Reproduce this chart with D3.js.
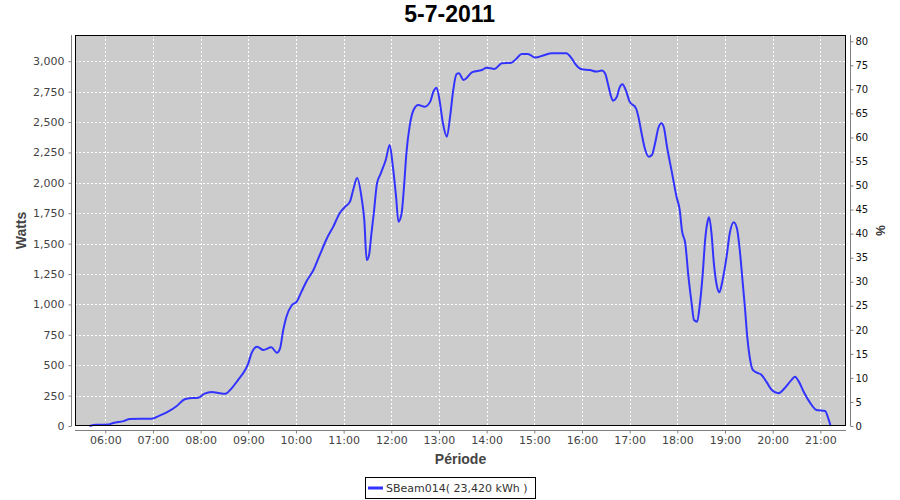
<!DOCTYPE html>
<html><head><meta charset="utf-8">
<script src="https://cdn.jsdelivr.net/npm/d3@7"></script>
<style>body{margin:0;background:#fff}svg{display:block}</style>
</head><body>
<svg id="c" width="900" height="500"></svg>
<script>
const title = "5-7-2011";
const seriesName = "SBeam014( 23,420 kWh )";
const times = ["05:40","05:49","06:04","06:10","06:23","06:31","06:58","07:09","07:19","07:30","07:40","07:49","07:57","08:05","08:14","08:22","08:31","08:39","08:47","08:56","09:00","09:04","09:11","09:19","09:29","09:36","09:40","09:44","09:48","09:55","10:01","10:07","10:13","10:22","10:30","10:39","10:47","10:55","11:02","11:08","11:12","11:17","11:23","11:26","11:29","11:32","11:35","11:38","11:42","11:46","11:50","11:53","11:58","12:02","12:06","12:09","12:13","12:16","12:19","12:23","12:28","12:34","12:42","12:49","12:53","12:57","13:01","13:05","13:10","13:14","13:18","13:22","13:25","13:31","13:42","13:54","14:00","14:10","14:19","14:31","14:38","14:44","14:52","15:01","15:13","15:22","15:40","15:47","15:51","16:00","16:10","16:18","16:25","16:29","16:33","16:36","16:39","16:44","16:47","16:51","16:55","17:00","17:08","17:11","17:15","17:19","17:24","17:28","17:32","17:36","17:40","17:43","17:47","17:53","17:59","18:03","18:06","18:10","18:14","18:18","18:21","18:25","18:28","18:32","18:35","18:38","18:40","18:43","18:46","18:50","18:53","18:57","19:02","19:06","19:11","19:15","19:19","19:22","19:25","19:28","19:31","19:35","19:40","19:46","19:52","19:59","20:07","20:15","20:23","20:28","20:33","20:39","20:47","20:55","21:06","21:10","21:13"];
const watts = [0,10,12,25,40,58,60,88,118,165,220,230,232,266,280,272,265,310,378,460,515,598,652,625,647,603,639,790,899,995,1023,1105,1187,1283,1407,1544,1640,1750,1804,1845,1941,2040,1859,1695,1365,1407,1585,1750,1996,2065,2133,2188,2311,2133,1886,1680,1750,1968,2243,2462,2599,2640,2626,2668,2750,2783,2668,2490,2380,2544,2764,2893,2901,2846,2910,2928,2947,2937,2983,2988,3024,3060,3060,3030,3052,3066,3066,3024,2983,2934,2928,2915,2923,2901,2805,2723,2676,2709,2778,2811,2764,2668,2613,2544,2408,2284,2215,2229,2325,2449,2490,2457,2297,2092,1886,1777,1600,1503,1228,1009,872,858,981,1256,1530,1680,1717,1585,1338,1146,1100,1201,1393,1585,1676,1626,1421,1201,981,735,570,461,439,420,365,296,269,310,373,406,365,282,192,132,123,63,0];
const leftTicks = [0,250,500,750,1000,1250,1500,1750,2000,2250,2500,2750,3000];
const rightTicks = [0,5,10,15,20,25,30,35,40,45,50,55,60,65,70,75,80];
const xDomainStr = ["05:21:54","21:32:18"];
const leftMax = 3216;
const rightMax = 81.3;

const toDate = s => { const p = s.split(":").map(Number); return new Date(2011,6,5,p[0],p[1],p[2]||0); };
const data = times.map((t,i)=>({t:toDate(t), w:watts[i]}));

const L=75, R=846, T=35, B=426;
const svg = d3.select("#c");
const x = d3.scaleTime().domain(xDomainStr.map(toDate)).range([L,R]);
const y = d3.scaleLinear().domain([0,leftMax]).range([B,T]);
const y2 = d3.scaleLinear().domain([0,rightMax]).range([B,T]);
const hourTicks = x.ticks(d3.timeHour.every(1));

svg.append("rect").attr("x",L).attr("y",T).attr("width",R-L).attr("height",B-T).attr("fill","#cccccc");
const g = svg.append("g");
g.selectAll("line.vx").data(hourTicks).join("line")
  .attr("x1",d=>Math.round(x(d))+0.5).attr("x2",d=>Math.round(x(d))+0.5).attr("y1",T).attr("y2",B)
  .attr("stroke","#fff").attr("stroke-dasharray","2,2").attr("stroke-width",1);
g.selectAll("line.hy").data(leftTicks.filter(d=>d>0)).join("line")
  .attr("y1",d=>Math.round(y(d))+0.5).attr("y2",d=>Math.round(y(d))+0.5).attr("x1",L).attr("x2",R)
  .attr("stroke","#fff").attr("stroke-dasharray","2,2").attr("stroke-width",1);

svg.append("path").datum(data)
  .attr("d", d3.line().x(d=>x(d.t)).y(d=>y(d.w)).curve(d3.curveMonotoneX))
  .attr("fill","none").attr("stroke","#3333ff").attr("stroke-width",2).attr("stroke-linejoin","round");

svg.append("rect").attr("x",L+0.5).attr("y",T+0.5).attr("width",R-L-1).attr("height",B-T-1)
  .attr("fill","none").attr("stroke","#000").attr("stroke-width",1);

function styleAxis(sel, color){
  sel.selectAll("path").attr("stroke","#808080");
  sel.selectAll("line").attr("stroke","#808080");
  sel.selectAll("text").attr("fill",color).style("font-family","'DejaVu Sans'");
}
const ax1 = svg.append("g").attr("transform","translate(71.5,0)")
  .call(d3.axisLeft(y).tickValues(leftTicks).tickFormat(d3.format(",")).tickSize(3).tickSizeOuter(0).tickPadding(4));
ax1.style("font-size","11px"); styleAxis(ax1,"#444");
const ax2 = svg.append("g").attr("transform","translate(850.5,0)")
  .call(d3.axisRight(y2).tickValues(rightTicks).tickSize(3).tickSizeOuter(0).tickPadding(2));
ax2.style("font-size","10px"); styleAxis(ax2,"#111");
const ax3 = svg.append("g").attr("transform","translate(0,430.5)")
  .call(d3.axisBottom(x).ticks(d3.timeHour.every(1)).tickFormat(d3.timeFormat("%H:%M")).tickSize(3).tickSizeOuter(0).tickPadding(3));
ax3.style("font-size","11px"); styleAxis(ax3,"#444");
ax1.select(".domain").attr("d",`M0.5,${T}V${B}`).attr("transform","translate(-0.5,0)");
ax2.select(".domain").attr("d",`M0,${T}V${B}`);
ax3.select(".domain").attr("d",`M${L},0H${R}`);

svg.append("text").attr("x",449.7).attr("y",21.7).attr("text-anchor","middle")
  .style("font-family","'Liberation Sans'").style("font-weight","bold").style("font-size","23px").attr("fill","#000").text(title);
svg.append("text").attr("transform","translate(25.5,230.5) rotate(-90)").attr("text-anchor","middle")
  .style("font-family","'Liberation Sans'").style("font-weight","bold").style("font-size","14px").attr("fill","#444").text("Watts");
svg.append("text").attr("transform","translate(876,230.5) rotate(90)").attr("text-anchor","middle")
  .style("font-family","'Liberation Sans'").style("font-weight","bold").style("font-size","12px").attr("fill","#333").text("%");
svg.append("text").attr("x",460.5).attr("y",464.3).attr("text-anchor","middle")
  .style("font-family","'Liberation Sans'").style("font-weight","bold").style("font-size","14px").attr("fill","#444").text("Période");

const lg = svg.append("g");
lg.append("rect").attr("x",365.5).attr("y",477.5).attr("width",170).attr("height",21).attr("fill","#fff").attr("stroke","#000");
lg.append("line").attr("x1",368).attr("x2",383).attr("y1",488).attr("y2",488).attr("stroke","#3333ff").attr("stroke-width",3);
lg.append("text").attr("x",386).attr("y",492).style("font-family","'DejaVu Sans'").style("font-size","11px").attr("fill","#333").text(seriesName);
</script>
</body></html>
